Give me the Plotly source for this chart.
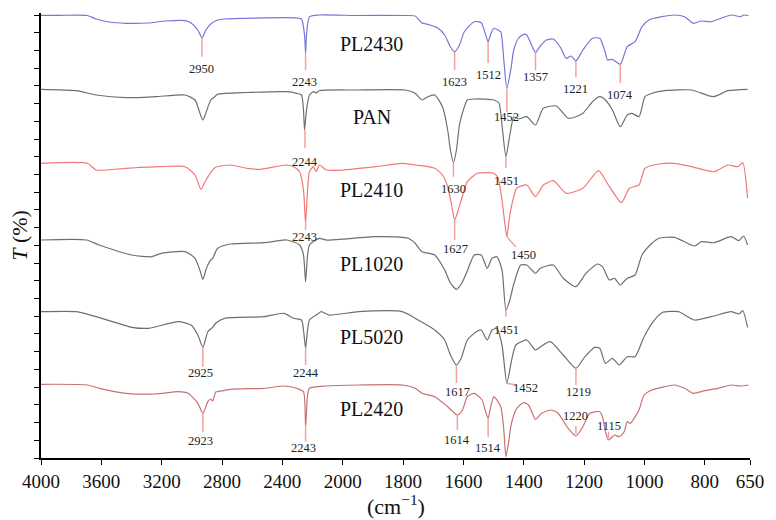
import numpy as np
import plotly.graph_objects as go

# ---------------- data ----------------
TICK_LABELS = [4000, 3600, 3200, 2800, 2400, 2000, 1800, 1600, 1400, 1200, 1000, 800, 650]
SERIES_NAMES = ["PL2430", "PAN", "PL2410", "PL1020", "PL5020", "PL2420"]

PL2430_WN = [4000, 3876, 3692, 3634, 3549, 3437, 3287, 3176, 3045, 3005, 2960, 2933, 2907, 2875, 2842, 2783,
             2371, 2305, 2273, 2253, 2246, 2240, 2220, 2155, 1956, 1793, 1760, 1737, 1718, 1685, 1662, 1643,
             1629, 1613, 1597, 1564, 1541, 1528, 1518, 1508, 1499, 1485, 1476, 1466, 1456, 1443, 1433, 1417,
             1400, 1390, 1374, 1361, 1345, 1325, 1302, 1279, 1259, 1243, 1227, 1204, 1172, 1148, 1132, 1122,
             1106, 1080, 1057, 1031, 1008, 985, 942, 900, 867, 838, 811, 779, 713, 681, 671, 655]
PL2430_T = [442.7, 442.7, 442.5, 439, 436, 434.7, 435, 437, 437.3, 435, 428, 420.3, 428, 434, 437.3, 439,
            440.3, 440, 439, 423, 404.7, 423, 441.3, 443, 442.5, 442.5, 442, 435, 433.7, 430, 423, 411,
            406.3, 413, 426.3, 436.3, 435.3, 425, 416.3, 425, 429.7, 428, 426.3, 398, 369.7, 388, 408, 420,
            423.7, 423, 413, 405.7, 412, 418, 419, 411, 399.7, 402, 397, 408, 419.7, 419.7, 408, 398,
            398.7, 393.7, 411.3, 416.3, 431.3, 438, 441.3, 443, 441.3, 434.7, 437, 436.3, 443, 441.3, 443, 442.3]

PAN_WN = [4000, 3764, 3634, 3437, 3241, 3045, 2979, 2947, 2927, 2907, 2875, 2848, 2829, 2633, 2371, 2305,
          2273, 2260, 2253, 2240, 2220, 2194, 2175, 2155, 1956, 1793, 1760, 1737, 1718, 1695, 1669, 1652,
          1643, 1633, 1623, 1613, 1597, 1587, 1564, 1499, 1482, 1472, 1459, 1446, 1433, 1417, 1390, 1361,
          1335, 1292, 1253, 1227, 1204, 1172, 1148, 1129, 1106, 1080, 1057, 1041, 1018, 998, 975, 932,
          844, 772, 723, 658]
PAN_T = [368.7, 367.3, 363, 360.3, 361.3, 363, 358, 345, 338, 345, 358, 361.3, 363.7, 365.5, 366.3, 364.7,
         363, 348, 328, 348, 363, 366.3, 365, 367.3, 368, 368, 364.7, 358, 361.3, 363, 351, 328,
         308, 295.3, 308, 333, 351, 358, 359, 358, 355, 333, 301.3, 323, 341, 339, 341.3, 333,
         349.7, 352, 339.7, 341.3, 344.7, 356.3, 361.3, 358, 348, 331.3, 343, 344.7, 341.3, 361.3, 364.7, 367.3,
         368, 361.3, 367.3, 368.7]

PL2410_WN = [4000, 3692, 3634, 3437, 3221, 3045, 2979, 2940, 2907, 2848, 2744, 2633, 2547, 2371, 2325, 2286,
             2260, 2246, 2233, 2220, 2194, 2175, 2155, 2109, 1999, 1891, 1803, 1760, 1695, 1669, 1652, 1639,
             1629, 1620, 1607, 1587, 1554, 1521, 1499, 1485, 1472, 1462, 1456, 1446, 1433, 1423, 1390, 1361,
             1335, 1302, 1259, 1204, 1152, 1116, 1076, 1050, 1018, 998, 952, 900, 844, 769, 723, 690, 674, 658]
PL2410_T = [294.7, 294.7, 288, 289.7, 291.3, 291.3, 283, 268.7, 278, 290.3, 293, 289.7, 288.7, 293, 291.3, 286.3,
            268, 234.7, 268, 286.3, 291.3, 286.3, 293, 288, 288, 291.3, 294.7, 293, 289.7, 283, 271.3, 253,
            238, 245, 258, 276.3, 284.7, 285.3, 284.7, 279.7, 258, 233, 221.3, 243, 261.3, 270, 273, 261.3,
            273, 277.3, 264.7, 269.7, 287.3, 271.3, 255.3, 269.7, 273, 289.7, 294, 294.7, 291.3, 286.3, 293, 291.3, 295.3, 259.7]

PL1020_WN = [4000, 3699, 3614, 3398, 3267, 3202, 3045, 2979, 2947, 2927, 2907, 2894, 2875, 2862, 2829, 2744,
             2521, 2371, 2286, 2260, 2246, 2233, 2220, 2155, 2109, 1891, 1783, 1760, 1737, 1695, 1662, 1643,
             1623, 1607, 1590, 1564, 1541, 1521, 1505, 1489, 1472, 1459, 1446, 1433, 1410, 1390, 1361, 1345,
             1302, 1269, 1227, 1194, 1155, 1139, 1116, 1099, 1080, 1057, 1031, 1008, 975, 952, 900, 834,
             811, 769, 713, 687, 671, 658]
PL1020_T = [218, 218, 213, 203, 201.3, 204.7, 206.3, 199.7, 188, 178.7, 188, 193, 198, 199.7, 209.7, 214,
            215.3, 218, 213, 203, 176.3, 203, 213, 219.7, 218, 221.3, 219.7, 214.7, 206.3, 203, 188, 175,
            168.7, 174, 184.7, 203, 203, 189.7, 199.7, 201.3, 188, 148, 158, 174, 193, 193, 184.7, 189.7,
            193, 179.7, 171.3, 184.7, 194, 191.3, 178, 179.7, 173, 179.7, 183, 203, 214.7, 219.7, 220.7, 212,
            216.3, 215.3, 221.3, 217.3, 222, 213]

PL5020_WN = [4000, 3764, 3634, 3398, 3287, 3091, 3005, 2960, 2927, 2894, 2862, 2842, 2783, 2521, 2390, 2325,
             2273, 2260, 2246, 2233, 2220, 2175, 2142, 2090, 1947, 1803, 1750, 1695, 1662, 1643, 1623, 1607,
             1587, 1557, 1541, 1521, 1505, 1489, 1472, 1456, 1440, 1426, 1390, 1361, 1341, 1312, 1269, 1227,
             1197, 1165, 1148, 1129, 1106, 1083, 1057, 1031, 1001, 975, 942, 887, 834, 769, 713, 687, 674, 658]
PL5020_T = [146.3, 146.3, 141.3, 130.7, 129.7, 136.3, 133, 123, 110.7, 126.3, 130.7, 134.7, 139.7, 141.3, 144.7, 139.7,
            138, 128, 109.7, 128, 138, 143, 146.3, 143, 146.3, 146.3, 138, 128, 118, 103, 93, 100,
            118, 126.3, 128, 118, 128, 129.7, 113, 74.7, 98, 113, 118, 108, 112, 116.3, 103, 89.7,
            101.3, 110.7, 109.7, 94.7, 99.7, 93, 101.3, 101.3, 121.3, 134.7, 145.3, 146.3, 138, 142, 146.3, 144, 147.3, 130.7]

PL2420_WN = [4000, 3692, 3614, 3437, 3241, 3091, 3025, 2960, 2927, 2894, 2875, 2862, 2842, 2829, 2744, 2521,
             2390, 2305, 2260, 2246, 2233, 2220, 2109, 1947, 1803, 1760, 1737, 1695, 1652, 1620, 1603, 1587,
             1564, 1538, 1528, 1518, 1508, 1499, 1476, 1466, 1459, 1449, 1443, 1433, 1423, 1400, 1384, 1361,
             1341, 1309, 1286, 1253, 1227, 1204, 1181, 1148, 1139, 1129, 1119, 1099, 1083, 1067, 1057, 1047,
             1018, 1001, 975, 942, 900, 867, 838, 801, 756, 713, 681, 655]
PL2420_T = [73.7, 73, 69.7, 64.7, 64, 66.3, 64.7, 54.7, 44.7, 56.3, 59, 57, 66, 66.3, 68.7, 69.7,
            72, 69.7, 66.3, 31.3, 63, 69.7, 72, 73, 73, 69.7, 64.7, 61.3, 51.3, 43, 48, 61.3,
            64.7, 58, 48, 39.7, 53, 61.3, 51.3, 28, 1.3, 18, 31.3, 43, 49.7, 55.3, 53, 38.7,
            44.7, 48, 44.7, 29.7, 22, 31.3, 44.7, 46.3, 41.3, 26.3, 18, 23, 21.3, 26.3, 36.3, 34.7,
            48, 63, 68, 70.7, 73, 69.7, 64.7, 67.3, 69.7, 73, 72, 73]

# peak labels: text, marker start (wn, T), marker end (wn, T), label (wn, T)
PEAK_TEXT = ["2950", "2243", "1623", "1512", "1452", "1357", "1221", "1074",
             "2244", "1630", "1451",
             "2243", "1627", "1450",
             "1451",
             "2925", "2244", "1617", "1452", "1219",
             "2923", "2243", "1614", "1514", "1220", "1115"]
PEAK_WN = [2933, 2246, 1629, 1518, 1456, 1361, 1227, 1080,
           2250, 1633, 1459,
           2246, 1629, 1456,
           1459,
           2927, 2246, 1623, 1456, 1227,
           2927, 2246, 1620, 1518, 1227, 1119]
PEAK_T0 = [420.3, 404.7, 406, 416, 369, 405.7, 397, 393.7,
           328, 295.3, 301,
           234.7, 238, 221.3,
           148,
           110.7, 109.7, 93, 74.7, 89.7,
           44.7, 31.3, 43, 39.7, 24, 19.7]
LINE_END_WN = [2933, 2246, 1629, 1518, 1456, 1361, 1227, 1080,
               2250, 1633, 1459,
               2246, 1629, 1426,
               1459,
               2927, 2246, 1623, 1426, 1227,
               2927, 2246, 1620, 1518, 1227, 1119]
LINE_END_T = [401.3, 388, 388, 395, 346.3, 388, 381, 375,
              310, 281.3, 290,
              228, 218, 211,
              141.3,
              91.3, 93, 75, 73, 73,
              26.3, 16.3, 28, 21.3, 32, 26.3]
LABEL_WN = [2933, 2253, 1629, 1518, 1456, 1361, 1227, 1080,
            2250, 1633, 1456,
            2253, 1626, 1400,
            1456,
            2940, 2246, 1620, 1394, 1220,
            2940, 2260, 1620, 1518, 1227, 1116]
LABEL_T = [389, 376, 376, 383, 341.3, 380.7, 369, 363,
           296.3, 269, 277.3,
           221.3, 209, 203,
           128,
           84.7, 84.7, 66.3, 70, 66.3,
           17.3, 9.7, 18, 9.7, 42, 32]

NAME_WN = [1904, 1904, 1904, 1904, 1904, 1904]
NAME_T = [414, 341, 268, 194, 121, 49]

COLORS = ["#7676d8", "#6f6f6f", "#f27878", "#6f6f6f", "#6f6f6f", "#c77272"]


def to_axis(w):
    w = np.asarray(w, dtype=float)
    return np.where(w >= 2000, (4000 - w) / 400.0, 5 + (2000 - w) / 200.0)


SERIF = "Liberation Serif"

fig = go.Figure()
series = [(PL2430_WN, PL2430_T), (PAN_WN, PAN_T), (PL2410_WN, PL2410_T),
          (PL1020_WN, PL1020_T), (PL5020_WN, PL5020_T), (PL2420_WN, PL2420_T)]
for (wn, t), name, col in zip(series, SERIES_NAMES, COLORS):
    fig.add_trace(go.Scatter(x=to_axis(wn), y=t, mode="lines", name=name,
                             line=dict(color=col, width=1.2, shape="spline", smoothing=0.6),
                             hoverinfo="skip"))

shapes = []
annotations = []
for i in range(len(PEAK_TEXT)):
    shapes.append(dict(type="line", xref="x", yref="y",
                       x0=float(to_axis(PEAK_WN[i])), y0=PEAK_T0[i],
                       x1=float(to_axis(LINE_END_WN[i])), y1=LINE_END_T[i],
                       line=dict(color="#f3a0a0", width=1.5)))
    annotations.append(dict(x=float(to_axis(LABEL_WN[i])), y=LABEL_T[i], xref="x", yref="y",
                            xanchor="center", yanchor="middle",
                            text=PEAK_TEXT[i], showarrow=False,
                            font=dict(family=SERIF, size=12.5, color="#222222")))

for name, wn, t in zip(SERIES_NAMES, NAME_WN, NAME_T):
    annotations.append(dict(x=float(to_axis(wn)), y=t, xref="x", yref="y", text=name,
                            xanchor="center", yanchor="middle",
                            showarrow=False, font=dict(family=SERIF, size=20, color="#111111")))

annotations.append(dict(x=-0.0306, y=0.5, xref="paper", yref="paper", text="<i>T</i> (%)",
                        xanchor="center", yanchor="middle",
                        textangle=-90, showarrow=False,
                        font=dict(family=SERIF, size=22, color="#111111")))
annotations.append(dict(x=0.5, y=-0.106, xref="paper", yref="paper", text="(cm<sup>\u22121</sup>)",
                        xanchor="center", yanchor="middle",
                        showarrow=False, font=dict(family=SERIF, size=22, color="#111111")))

fig.update_layout(
    width=776, height=520,
    margin=dict(l=41, r=16, t=13, b=62),
    paper_bgcolor="white", plot_bgcolor="white",
    showlegend=False,
    font=dict(family=SERIF),
    shapes=shapes, annotations=annotations,
    xaxis=dict(range=[0, 11.75], tickvals=[float(v) for v in to_axis(TICK_LABELS)],
               ticktext=[str(v) for v in TICK_LABELS], ticks="outside", ticklen=5, tickwidth=1.3,
               tickcolor="black", showline=True, linecolor="black", linewidth=1.5,
               showgrid=False, zeroline=False,
               tickfont=dict(family=SERIF, size=19, color="#111111")),
    yaxis=dict(range=[0, 445], tickvals=[i * 17.72 for i in range(26)], ticks="outside",
               ticklen=5, tickwidth=1.3, tickcolor="black", showticklabels=False,
               showline=True, linecolor="black", linewidth=1.5, showgrid=False, zeroline=False),
)

fig.write_html("out.html")
